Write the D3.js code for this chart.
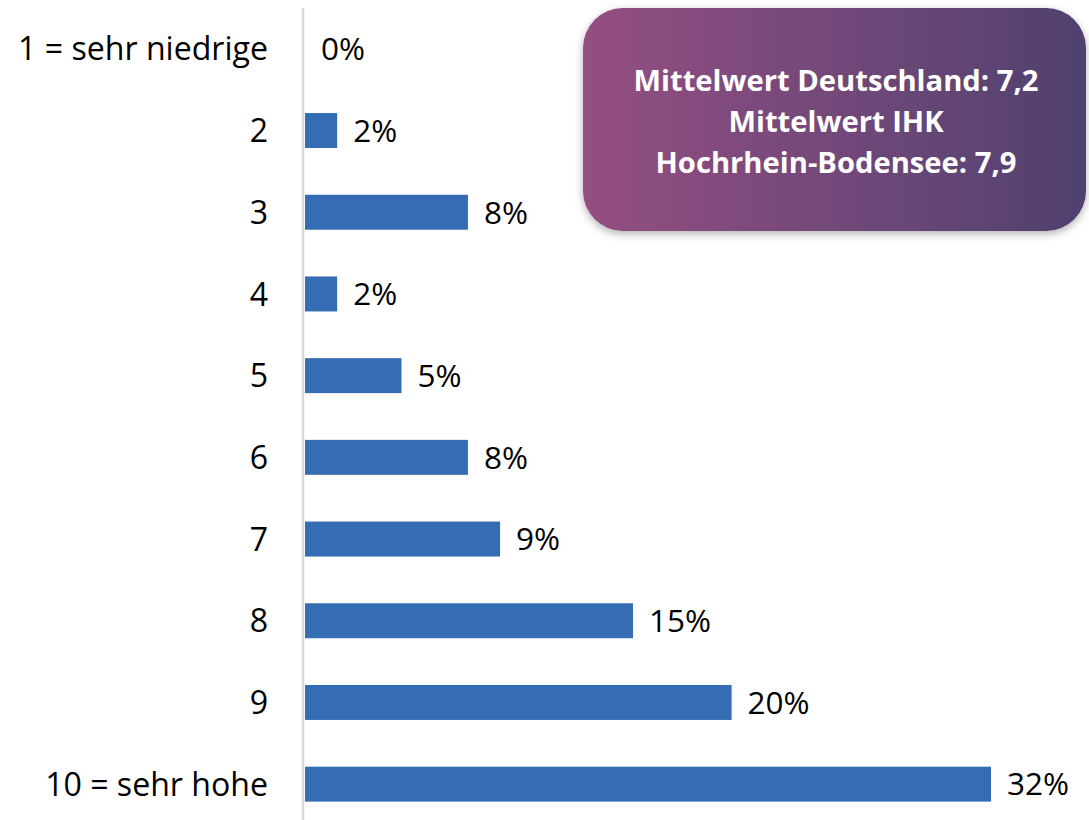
<!DOCTYPE html>
<html><head><meta charset="utf-8">
<script src="https://cdn.jsdelivr.net/npm/d3@7"></script>
<style>
html,body{margin:0;padding:0;background:#fff;}
svg{display:block;}
</style></head>
<body>
<script>
const categories = ["1 = sehr niedrige","2","3","4","5","6","7","8","9","10 = sehr hohe"];
const values = [0, 1.5, 7.6, 1.5, 4.5, 7.6, 9.1, 15.3, 19.9, 32.0];
const valueLabels = ["0%","2%","8%","2%","5%","8%","9%","15%","20%","32%"];
const noteLines = ["Mittelwert Deutschland: 7,2","Mittelwert IHK","Hochrhein-Bodensee: 7,9"];

const W = 1089, H = 820;
const svg = d3.select("body").append("svg").attr("width", W).attr("height", H);
const font = "'Open Sans', Lato, sans-serif";

// fit a font size so a sample string reaches a target width
function fitSize(sample, target, weight) {
  const t = svg.append("text").attr("font-family", font).attr("font-size", 100)
    .attr("font-weight", weight || "normal").text(sample);
  const w = t.node().getComputedTextLength();
  t.remove();
  return 100 * target / w;
}
const catSize = fitSize(categories[0], 250);
const valSize = fitSize("32%", 62);
const noteSize = fitSize(noteLines[0], 405, "bold");

const x = d3.scaleLinear().domain([0, 32]).range([305, 991]);
const y = d3.scaleBand().domain(categories).range([8, 825]).paddingInner(0.572).paddingOuter(0.286);

// axis line
svg.append("line").attr("x1", 303).attr("x2", 303).attr("y1", 8).attr("y2", 820)
  .attr("stroke", "#d9d9d9").attr("stroke-width", 2.5);

// bars
svg.selectAll("rect.bar").data(values).join("rect").attr("class","bar")
  .attr("x", x(0)).attr("y", (d,i) => y(categories[i]))
  .attr("width", d => x(d) - x(0)).attr("height", y.bandwidth())
  .attr("fill", "#346db3");

// value labels
svg.selectAll("text.val").data(values).join("text").attr("class","val")
  .attr("x", d => x(d) + 16).attr("y", (d,i) => y(categories[i]) + y.bandwidth()/2)
  .attr("dy", "0.36em").attr("font-family", font).attr("font-size", valSize).attr("fill", "#000")
  .text((d,i) => valueLabels[i]);

// category labels
svg.selectAll("text.cat").data(categories).join("text").attr("class","cat")
  .attr("x", 268).attr("y", d => y(d) + y.bandwidth()/2)
  .attr("dy", "0.36em").attr("text-anchor", "end")
  .attr("font-family", font).attr("font-size", catSize).attr("fill", "#000")
  .text(d => d);

// note box
const defs = svg.append("defs");
const g = defs.append("linearGradient").attr("id","grad").attr("x1","0%").attr("x2","100%");
g.append("stop").attr("offset","0%").attr("stop-color","#954f82");
g.append("stop").attr("offset","100%").attr("stop-color","#4f416f");
const f = defs.append("filter").attr("id","sh").attr("x","-10%").attr("y","-10%").attr("width","120%").attr("height","130%");
f.append("feDropShadow").attr("dx",0).attr("dy",3).attr("stdDeviation",4).attr("flood-color","#000").attr("flood-opacity",0.3);

svg.append("rect").attr("x",583).attr("y",8).attr("width",503).attr("height",223)
  .attr("rx",40).attr("ry",40).attr("fill","url(#grad)").attr("filter","url(#sh)");
svg.selectAll("text.note").data(noteLines).join("text").attr("class","note")
  .attr("x", 836).attr("y", (d,i) => 91 + i*41)
  .attr("text-anchor","middle").attr("font-family", font).attr("font-weight","bold")
  .attr("font-size", noteSize).attr("fill","#fff").text(d => d);
</script>
</body></html>
